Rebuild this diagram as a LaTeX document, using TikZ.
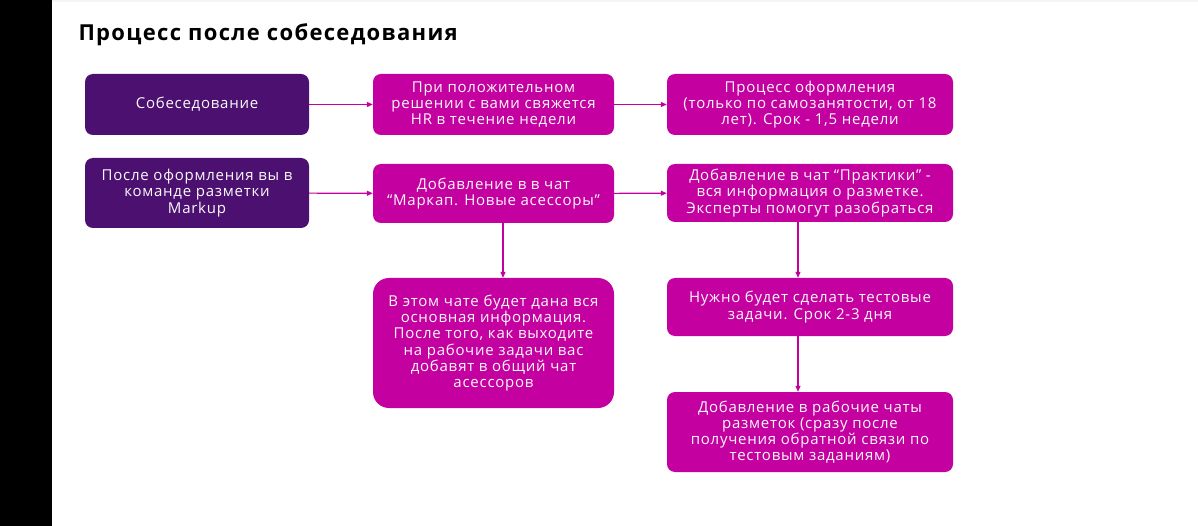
\documentclass[tikz,border=0pt]{standalone}
\usepackage{fontspec}
\setmainfont{Open Sans}
\newfontfamily\boxfont[LetterSpace=5]{Open Sans}
\newfontfamily\titlefont[LetterSpace=6]{Open Sans}
\usetikzlibrary{arrows.meta}

\definecolor{darkviolet}{RGB}{76,17,112}
\definecolor{magentabox}{RGB}{197,0,160}

\begin{document}
\begin{tikzpicture}[x=1pt, y=-1pt]
    \tikzset{
        stepbox/.style={rounded corners=8pt, fill=magentabox, text=white!96!gray,
            align=center, inner sep=0pt, font=\boxfont\fontsize{15}{16.2}\selectfont},
        startbox/.style={stepbox, fill=darkviolet},
        flow/.style={magentabox, line width=1.1pt, -{Triangle[length=6pt, width=5pt]}}
    }

    % --- fond ---
    \useasboundingbox (0,0) rectangle (1198,526);
    \fill[white] (0,0) rectangle (1198,526);
    \fill[black] (0,0) rectangle (52,526);
    \fill[gray!8] (52,0) rectangle (1198,2);

    % --- titre ---
    \node[anchor=base west, font=\titlefont\fontsize{22}{26}\selectfont\bfseries] (title) at (75,41)
        {Процесс после собеседования};

    % --- ligne 1 ---
    \node[startbox, minimum width=224pt, minimum height=61pt] (interview) at (197,104.5)
        {Собеседование};
    \node[stepbox, minimum width=241pt, minimum height=61pt] (answer) at (493.5,104.5)
        {При положительном\\решении с вами свяжется\\HR в течение недели};
    \node[stepbox, minimum width=286pt, minimum height=61pt] (hiring) at (810,104.5)
        {Процесс оформления\\(только по самозанятости, от 18\\лет). Срок - 1,5 недели};

    % --- ligne 2 ---
    \node[startbox, minimum width=224pt, minimum height=70pt] (team) at (197,193)
        {После оформления вы в\\команде разметки\\Markup};
    \node[stepbox, minimum width=241pt, minimum height=59pt] (newchat) at (493.5,193.5)
        {Добавление в в чат\\“Маркап. Новые асессоры”};
    \node[stepbox, minimum width=286pt, minimum height=58pt] (practice) at (810,193)
        {Добавление в чат “Практики” -\\вся информация о разметке.\\Эксперты помогут разобраться};

    % --- colonnes ---
    \node[stepbox, rounded corners=16pt, minimum width=241pt, minimum height=130pt] (info) at (493.5,343)
        {В этом чате будет дана вся\\основная информация.\\После того, как выходите\\на рабочие задачи вас\\добавят в общий чат\\асессоров};
    \node[stepbox, minimum width=286pt, minimum height=58pt] (tests) at (810,307)
        {Нужно будет сделать тестовые\\задачи. Срок 2-3 дня};
    \node[stepbox, minimum width=286pt, minimum height=80pt] (workchats) at (810,432)
        {Добавление в рабочие чаты\\разметок (сразу после\\получения обратной связи по\\тестовым заданиям)};

    % --- fleches ---
    \draw[flow] (interview) -- (answer);
    \draw[flow] (answer) -- (hiring);
    \draw[flow] (team) -- (newchat);
    \draw[flow] (newchat) -- (practice);
    \draw[flow] ([xshift=9.5pt]newchat.south) -- ([xshift=9.5pt]info.north);
    \draw[flow] ([xshift=-12pt]practice.south) -- ([xshift=-12pt]tests.north);
    \draw[flow] ([xshift=-12pt]tests.south) -- ([xshift=-12pt]workchats.north);

\end{tikzpicture}
\end{document}
